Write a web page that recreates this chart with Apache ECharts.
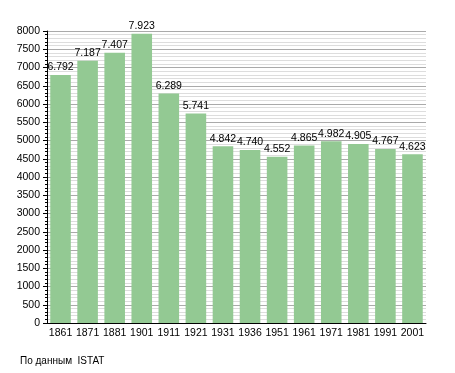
<!DOCTYPE html>
<html><head><meta charset="utf-8">
<script src="https://cdn.jsdelivr.net/npm/echarts@6/dist/echarts.min.js"></script>
<style>html,body{margin:0;padding:0;background:#fff}#c{width:455px;height:373px}</style>
</head><body><div id="c"></div>
<script>
const categories = ['1861','1871','1881','1901','1911','1921','1931','1936','1951','1961','1971','1981','1991','2001'];
const population = [6792,7187,7407,7923,6289,5741,4842,4740,4552,4865,4982,4905,4767,4623];
const yTicks = {min:0, max:8000, interval:500};
const font = 'Liberation Sans, Arial, sans-serif';
const chart = echarts.init(document.getElementById('c'), null, {renderer:'canvas'});
chart.setOption({
  animation:false,
  grid:{left:47,right:29,top:31,bottom:50,containLabel:false},
  graphic:[{type:'text',left:20,top:356,style:{text:'По данным  ISTAT',font:'10px '+font,fill:'#000'}}],
  xAxis:{type:'category',data:categories,
    axisLine:{lineStyle:{color:'#000',width:1}},axisTick:{show:false},
    axisLabel:{color:'#000',fontFamily:font,fontSize:10.5,margin:5,interval:0},
    splitLine:{show:false}},
  yAxis:{type:'value',min:yTicks.min,max:yTicks.max,interval:yTicks.interval,
    axisLine:{show:true,lineStyle:{color:'#000',width:1}},
    axisTick:{show:true,length:4,lineStyle:{color:'#000'}},
    minorTick:{show:true,splitNumber:5,length:2,lineStyle:{color:'#000'}},
    axisLabel:{color:'#000',fontFamily:font,fontSize:10.5,margin:7,formatter:v=>String(v)},
    splitLine:{show:true,lineStyle:{color:'#aaa',width:1}},
    minorSplitLine:{show:true,lineStyle:{color:'#ddd',width:1}}},
  series:[{type:'bar',data:population,barCategoryGap:'24%',
    itemStyle:{color:'#93c993'},
    label:{show:true,position:'top',distance:2,color:'#000',fontFamily:font,fontSize:10.5,
      formatter:p=>String(p.value).replace(/\B(?=(\d{3})+(?!\d))/g,'.')}}]
});
</script></body></html>
